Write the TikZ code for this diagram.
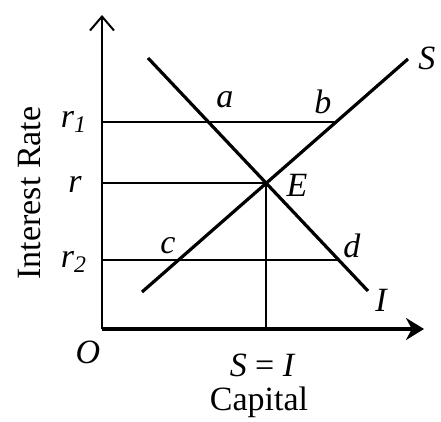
\documentclass[tikz,border=0pt]{standalone}
\usepackage{fontspec}
\setmainfont{Liberation Serif}
\usetikzlibrary{arrows.meta}

\begin{document}
\begin{tikzpicture}[
    x=0.5pt, y=-0.5pt,
    curve/.style={line width=1.6pt},
    level/.style={line width=0.8pt},
    lbl/.style={font=\fontsize{17}{20}\selectfont\itshape, inner sep=0pt},
    txt/.style={font=\fontsize{17}{20}\selectfont, inner sep=0pt}
]
    \useasboundingbox (0,0) rectangle (441,422);

    % Axes
    \coordinate (O) at (102,329);
    \coordinate (ytop) at (102,15);
    \coordinate (xend) at (424,329);
    \draw[line width=1pt, -{Straight Barb[length=7pt, width=12pt]}] (O) -- (ytop);
    \draw[line width=1.6pt, -{Stealth[length=9pt, width=11pt]}] (O) -- (xend);

    % Investment and saving lines
    \coordinate (I0) at (148,58);
    \coordinate (I1) at (368,291);
    \coordinate (S0) at (142,292);
    \coordinate (S1) at (408,59);
    \draw[curve] (I0) -- (I1);
    \draw[curve] (S0) -- (S1);

    % Points on the lines
    \coordinate (E) at (intersection of I0--I1 and S0--S1);
    \coordinate (a) at (208.4,122);
    \coordinate (b) at (336.1,122);
    \coordinate (c) at (178.5,260);
    \coordinate (d) at (338.7,260);
    \coordinate (r1) at (102,122);
    \coordinate (r) at (O |- E);
    \coordinate (r2) at (102,260);
    \coordinate (SI) at (E |- O);

    % Rate levels
    \draw[level] (r1) -- (b);
    \draw[level] (r) -- (E);
    \draw[level] (r2) -- (d);
    \draw[level] (E) -- (SI);

    % Labels
    \node[lbl] (la) at (225,100) {a};
    \node[lbl] (lb) at (323,102) {b};
    \node[lbl] (lE) at (297,185) {E};
    \node[lbl] (lc) at (168,246) {c};
    \node[lbl] (ld) at (352,246) {d};
    \node[lbl] (lS) at (427,58) {S};
    \node[lbl] (lI) at (381,300) {I};
    \node[lbl] (lr1) at (74,122) {r\textsubscript{1}};
    \node[lbl] (lr) at (75,184) {r};
    \node[lbl] (lr2) at (74,262) {r\textsubscript{2}};
    \node[lbl] (lO) at (88,352) {O};
    \node[lbl] (lSI) at (262,365) {S {\upshape =} I};
    \node[txt] (cap) at (259,402) {Capital};
    \node[txt, rotate=90] (rate) at (30,193) {Interest Rate};
\end{tikzpicture}
\end{document}
